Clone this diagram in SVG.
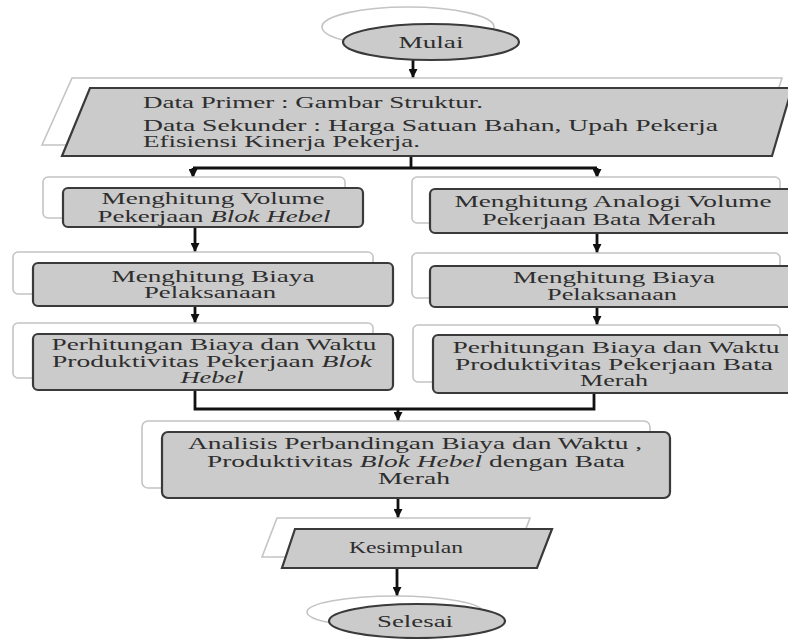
<svg xmlns="http://www.w3.org/2000/svg" width="788" height="639" viewBox="0 0 788 639">
<defs>
<style>
.bg{fill:#ffffff;stroke:#c4c4c4;stroke-width:1.6}
.mn{fill:#cbcbcb;stroke:#3a3a3a;stroke-width:2.2}
.t{font-family:"Liberation Serif","Times New Roman",serif;font-size:16px;fill:#2e2e2e;text-anchor:middle}
.tl{font-family:"Liberation Serif","Times New Roman",serif;font-size:16px;fill:#2e2e2e}
.i{font-style:italic}
.c{fill:none;stroke:#111111;stroke-width:2.8}
</style>
<marker id="ah" viewBox="0 0 10 10" refX="10" refY="5" markerWidth="9" markerHeight="9" markerUnits="userSpaceOnUse" orient="auto">
<path d="M0,0 L10,5 L0,10 z" fill="#111111"/>
</marker>
</defs>
<rect width="788" height="639" fill="#ffffff"/>

<g id="connectors">
<path class="c" d="M413,60 V78" marker-end="url(#ah)"/>
<path class="c" d="M411,156 V168 M193,168 H597"/>
<path class="c" d="M193,168 V178" marker-end="url(#ah)"/>
<path class="c" d="M597,168 V178" marker-end="url(#ah)"/>
<path class="c" d="M195,227 V252" marker-end="url(#ah)"/>
<path class="c" d="M195,305 V323" marker-end="url(#ah)"/>
<path class="c" d="M597,233 V253" marker-end="url(#ah)"/>
<path class="c" d="M597,307 V325" marker-end="url(#ah)"/>
<path class="c" d="M195,390 V409 H594 V393"/>
<path class="c" d="M398,409 V421" marker-end="url(#ah)"/>
<path class="c" d="M398,498 V518" marker-end="url(#ah)"/>
<path class="c" d="M397,568 V596" marker-end="url(#ah)"/>
</g>

<g id="mulai">
<ellipse class="bg" cx="408" cy="27" rx="86" ry="20"/>
<ellipse class="mn" cx="431" cy="42" rx="88" ry="18"/>
<text class="t" x="431" y="48" textLength="65" lengthAdjust="spacingAndGlyphs">Mulai</text>
</g>

<g id="data">
<polygon class="bg" points="72,78 782,78 760,145 42,145"/>
<polygon class="mn" points="90,88 792,88 772,156 62,156"/>
<text class="tl" x="143" y="108" textLength="340" lengthAdjust="spacingAndGlyphs">Data Primer : Gambar Struktur.</text>
<text class="tl" x="143" y="131" textLength="575" lengthAdjust="spacingAndGlyphs">Data Sekunder : Harga Satuan Bahan, Upah Pekerja</text>
<text class="tl" x="143" y="147" textLength="277" lengthAdjust="spacingAndGlyphs">Efisiensi Kinerja Pekerja.</text>
</g>

<g id="vol-hebel">
<rect class="bg" x="43" y="177" width="302" height="41" rx="5"/>
<rect class="mn" x="63" y="188" width="300" height="39" rx="5"/>
<text class="t" x="213" y="204" textLength="223" lengthAdjust="spacingAndGlyphs">Menghitung Volume</text>
<text class="t" x="214" y="222" textLength="233" lengthAdjust="spacingAndGlyphs">Pekerjaan <tspan class="i">Blok Hebel</tspan></text>
</g>

<g id="vol-bata">
<rect class="bg" x="412" y="177" width="368" height="46" rx="5"/>
<rect class="mn" x="430" y="189" width="366" height="44" rx="5"/>
<text class="t" x="613" y="207" textLength="317" lengthAdjust="spacingAndGlyphs">Menghitung Analogi Volume</text>
<text class="t" x="599" y="225" textLength="234" lengthAdjust="spacingAndGlyphs">Pekerjaan Bata Merah</text>
</g>

<g id="biaya-hebel">
<rect class="bg" x="13" y="252" width="360" height="42" rx="5"/>
<rect class="mn" x="33" y="263" width="360" height="43" rx="5"/>
<text class="t" x="213" y="282" textLength="203" lengthAdjust="spacingAndGlyphs">Menghitung Biaya</text>
<text class="t" x="210" y="298" textLength="132" lengthAdjust="spacingAndGlyphs">Pelaksanaan</text>
</g>

<g id="biaya-bata">
<rect class="bg" x="412" y="253" width="368" height="45" rx="5"/>
<rect class="mn" x="430" y="266" width="366" height="41" rx="5"/>
<text class="t" x="614" y="283" textLength="202" lengthAdjust="spacingAndGlyphs">Menghitung Biaya</text>
<text class="t" x="612" y="300" textLength="130" lengthAdjust="spacingAndGlyphs">Pelaksanaan</text>
</g>

<g id="prod-hebel">
<rect class="bg" x="13" y="323" width="360" height="55" rx="5"/>
<rect class="mn" x="33" y="334" width="360" height="56" rx="5"/>
<text class="t" x="214" y="350" textLength="325" lengthAdjust="spacingAndGlyphs">Perhitungan Biaya dan Waktu</text>
<text class="t" x="212" y="367" textLength="320" lengthAdjust="spacingAndGlyphs">Produktivitas Pekerjaan <tspan class="i">Blok</tspan></text>
<text class="t i" x="212" y="383" textLength="63" lengthAdjust="spacingAndGlyphs">Hebel</text>
</g>

<g id="prod-bata">
<rect class="bg" x="413" y="325" width="367" height="57" rx="5"/>
<rect class="mn" x="433" y="335" width="363" height="58" rx="5"/>
<text class="t" x="616" y="353" textLength="327" lengthAdjust="spacingAndGlyphs">Perhitungan Biaya dan Waktu</text>
<text class="t" x="614" y="370" textLength="318" lengthAdjust="spacingAndGlyphs">Produktivitas Pekerjaan Bata</text>
<text class="t" x="614" y="386" textLength="68" lengthAdjust="spacingAndGlyphs">Merah</text>
</g>

<g id="analisis">
<rect class="bg" x="142" y="421" width="508" height="67" rx="6"/>
<rect class="mn" x="162" y="432" width="508" height="66" rx="6"/>
<text class="t" x="415" y="449" textLength="454" lengthAdjust="spacingAndGlyphs">Analisis Perbandingan Biaya dan Waktu ,</text>
<text class="t" x="416" y="467" textLength="418" lengthAdjust="spacingAndGlyphs">Produktivitas <tspan class="i">Blok Hebel</tspan> dengan Bata</text>
<text class="t" x="414" y="484" textLength="72" lengthAdjust="spacingAndGlyphs">Merah</text>
</g>

<g id="kesimpulan">
<polygon class="bg" points="277,518 530,518 515,557 262,557"/>
<polygon class="mn" points="295,529 552,529 537,568 282,568"/>
<text class="t" x="406" y="553" textLength="114" lengthAdjust="spacingAndGlyphs">Kesimpulan</text>
</g>

<g id="selesai">
<ellipse class="bg" cx="395" cy="612" rx="88" ry="16"/>
<ellipse class="mn" cx="417" cy="621" rx="88" ry="17"/>
<text class="t" x="415" y="627" textLength="76" lengthAdjust="spacingAndGlyphs">Selesai</text>
</g>
</svg>
